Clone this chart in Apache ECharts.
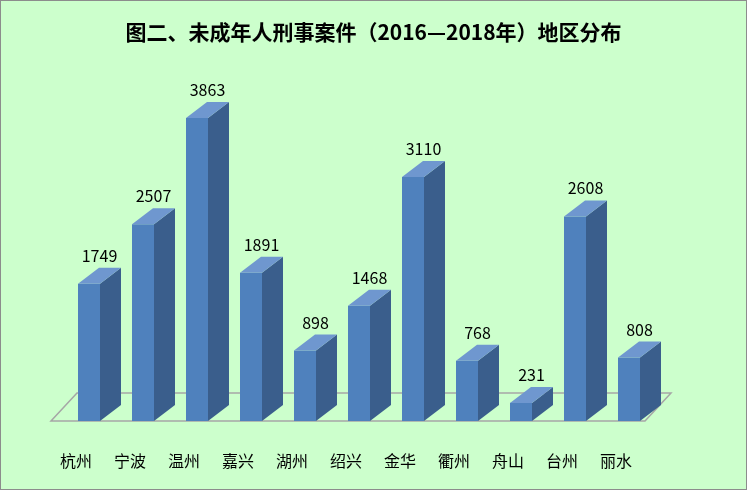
<!DOCTYPE html>
<html lang="zh">
<head>
<meta charset="UTF-8">
<title>地区分布</title>
<script src="https://cdn.jsdelivr.net/npm/echarts@6/dist/echarts.min.js"></script>
<style>
  html, body { margin: 0; padding: 0; background: #fff; }
  #main { width: 745px; height: 488px; border: 1px solid #8c8c8c; background: #ccffcc; }
</style>
</head>
<body>
<div id="main"></div>
<script>
var categories = ['杭州', '宁波', '温州', '嘉兴', '湖州', '绍兴', '金华', '衢州', '舟山', '台州', '丽水'];
var values = [1749, 2507, 3863, 1891, 898, 1468, 3110, 768, 231, 2608, 808];

var DX = 21, DY = -16;   // 立体深度偏移
var chart = echarts.init(document.getElementById('main'));

function renderBar(params, api) {
  var base = api.coord([api.value(0), 0]);
  var top = api.coord([api.value(0), api.value(1)]);
  var x0 = base[0] + 2, x1 = x0 + 22;
  var yb = base[1], yt = top[1];
  return {
    type: 'group',
    children: [
      { type: 'polygon', shape: { points: [[x0, yb], [x1, yb], [x1, yt], [x0, yt]] },
        style: { fill: '#4f81bd' } },
      { type: 'polygon', shape: { points: [[x1, yb], [x1 + DX, yb + DY], [x1 + DX, yt + DY], [x1, yt]] },
        style: { fill: '#3a5e8c' } },
      { type: 'polygon', shape: { points: [[x0, yt], [x1, yt], [x1 + DX, yt + DY], [x0 + DX, yt + DY]] },
        style: { fill: '#6f97cf' } },
      { type: 'text', style: { text: String(api.value(1)), x: (x0 + x1 + DX) / 2, y: yt + DY - 4,
        align: 'center', verticalAlign: 'bottom', fontSize: 16, fill: '#000',
        fontFamily: 'Noto Sans CJK SC' } }
    ]
  };
}

function renderFloor(params, api) {
  if (params.dataIndex !== 0) return;
  var a = api.coord([categories[0], 0]);
  var b = api.coord([categories[categories.length - 1], 0]);
  var half = api.size([1, 0])[0] / 2;
  var xl = a[0] - half + 2, xr = b[0] + half + 2, y = a[1];
  return {
    type: 'polygon',
    shape: { points: [[xl, y], [xr, y], [xr + 26, y - 28], [xl + 26, y - 28]] },
    style: { fill: 'rgba(0,0,0,0)', stroke: '#a6a6a6', lineWidth: 1.5 }
  };
}

var option = {
  backgroundColor: '#ccffcc',
  title: {
    text: '图二、未成年人刑事案件（2016—2018年）地区分布',
    left: 'center', top: 16,
    textStyle: { fontSize: 21, fontWeight: 'bold', color: '#000', fontFamily: 'Noto Sans CJK SC' }
  },
  grid: { left: 48, right: 103, top: 67, bottom: 68 },
  xAxis: {
    type: 'category', data: categories,
    axisLine: { show: false }, axisTick: { show: false },
    axisLabel: { fontSize: 16, color: '#000', margin: 32, fontFamily: 'Noto Sans CJK SC' }
  },
  yAxis: { type: 'value', min: 0, max: 4500, show: false, splitLine: { show: false } },
  series: [
    { type: 'custom', renderItem: renderFloor, data: values.map(function (v, i) { return [categories[i], v]; }), z: 1 },
    { type: 'custom', renderItem: renderBar, data: values.map(function (v, i) { return [categories[i], v]; }), z: 2 }
  ]
};
chart.setOption(option);
</script>
</body>
</html>
